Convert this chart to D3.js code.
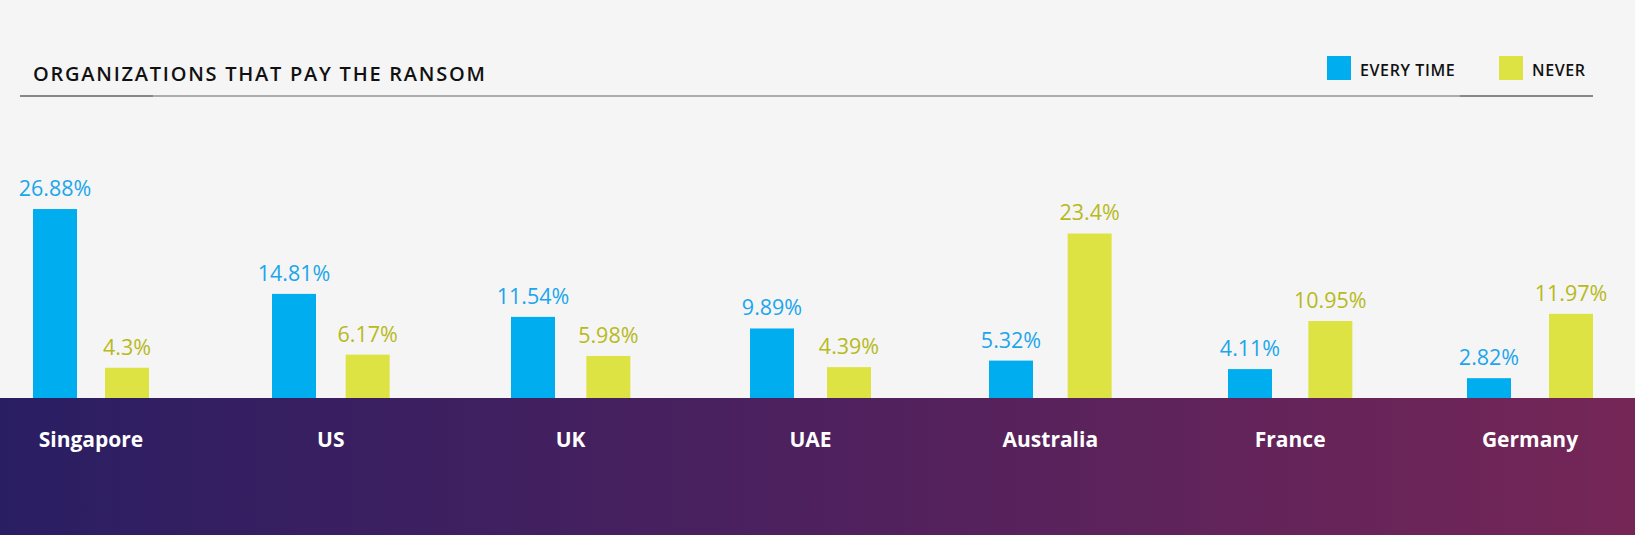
<!DOCTYPE html>
<html>
<head>
<meta charset="utf-8">
<style>
  body { margin: 0; background-color: #f5f5f5; }
  svg { display: block; font-family: 'Open Sans', sans-serif; }
  .title { font-size: 20px; font-weight: 600; letter-spacing: 1.75px; fill: #111; }
  .legend text { font-size: 16px; font-weight: 600; letter-spacing: 0.6px; fill: #111; }
  .value { font-size: 21.5px; font-weight: 500; text-anchor: middle; }
  .country { font-size: 21px; font-weight: 700; fill: #fff; text-anchor: middle; }
</style>
</head>
<body>
<div id="my_dataviz"></div>
<script src="https://d3js.org/d3.v7.min.js"></script>
<script>

// data
var countries = ["Singapore", "US", "UK", "UAE", "Australia", "France", "Germany"];
var everyTime = [26.88, 14.81, 11.54, 9.89, 5.32, 4.11, 2.82];
var never = [4.3, 6.17, 5.98, 4.39, 23.4, 10.95, 11.97];
var seriesNames = ["EVERY TIME", "NEVER"];

var width = 1635, height = 535;
var baseY = 398, barW = 44;
var blue = "#00adef", blueText = "#1ba6ec";
var yellow = "#dde343", yellowText = "#b7ba1c";

var svg = d3.select("#my_dataviz")
  .append("svg")
    .attr("width", width)
    .attr("height", height);

// background band with the gradient
var defs = svg.append("defs");
var grad = defs.append("linearGradient").attr("id", "band").attr("x1", "0%").attr("x2", "100%");
grad.append("stop").attr("offset", "0%").attr("stop-color", "#2a1e63");
grad.append("stop").attr("offset", "50%").attr("stop-color", "#4e215e");
grad.append("stop").attr("offset", "100%").attr("stop-color", "#752657");

svg.append("rect")
  .attr("x", 0).attr("y", 0).attr("width", width).attr("height", height)
  .attr("fill", "#f5f5f5");

// header
svg.append("text")
  .attr("class", "title")
  .attr("x", 33).attr("y", 81)
  .text("ORGANIZATIONS THAT PAY THE RANSOM");

svg.append("line").attr("x1", 20).attr("x2", 1593).attr("y1", 96).attr("y2", 96)
  .attr("stroke", "#acacac").attr("stroke-width", 2);
svg.append("line").attr("x1", 20).attr("x2", 153).attr("y1", 96).attr("y2", 96)
  .attr("stroke", "#888").attr("stroke-width", 2);
svg.append("line").attr("x1", 1460).attr("x2", 1593).attr("y1", 96).attr("y2", 96)
  .attr("stroke", "#888").attr("stroke-width", 2);

// legend
var legend = svg.append("g").attr("class", "legend");
var legendX = d3.scaleOrdinal().domain(seriesNames).range([1327, 1499]);
var legendColor = d3.scaleOrdinal().domain(seriesNames).range([blue, yellow]);
var item = legend.selectAll("g").data(seriesNames).enter().append("g")
  .attr("transform", function(d) { return "translate(" + legendX(d) + ",56)"; });
item.append("rect").attr("width", 24).attr("height", 24).attr("fill", function(d) { return legendColor(d); });
item.append("text").attr("x", 33).attr("y", 20).text(function(d) { return d; });

// scales
var xBlue = d3.scalePoint().domain(countries).range([33, 1467]);
var xYellow = d3.scalePoint().domain(countries).range([105, 1549]);
var y = d3.scaleLinear().domain([0, 30]).range([baseY, baseY - 30 * 7.03]);

var data = countries.map(function(c, i) { return { country: c, a: everyTime[i], b: never[i] }; });

// bars
svg.selectAll(".barA").data(data).enter().append("rect")
  .attr("x", function(d) { return xBlue(d.country); })
  .attr("y", function(d) { return y(d.a); })
  .attr("width", barW)
  .attr("height", function(d) { return y(0) - y(d.a); })
  .attr("fill", blue);

svg.selectAll(".barB").data(data).enter().append("rect")
  .attr("x", function(d) { return xYellow(d.country); })
  .attr("y", function(d) { return y(d.b); })
  .attr("width", barW)
  .attr("height", function(d) { return y(0) - y(d.b); })
  .attr("fill", yellow);

// value labels
svg.selectAll(".valA").data(data).enter().append("text")
  .attr("class", "value")
  .attr("x", function(d) { return xBlue(d.country) + barW / 2; })
  .attr("y", function(d) { return y(d.a) - 13; })
  .attr("fill", blueText)
  .text(function(d) { return d.a + "%"; });

svg.selectAll(".valB").data(data).enter().append("text")
  .attr("class", "value")
  .attr("x", function(d) { return xYellow(d.country) + barW / 2; })
  .attr("y", function(d) { return y(d.b) - 13; })
  .attr("fill", yellowText)
  .text(function(d) { return d.b + "%"; });

// bottom band, drawn over the bar bottoms
svg.append("rect")
  .attr("x", 0).attr("y", baseY).attr("width", width).attr("height", height - baseY)
  .attr("fill", "url(#band)");

svg.selectAll(".country").data(data).enter().append("text")
  .attr("class", "country")
  .attr("x", function(d) { return (xBlue(d.country) + xYellow(d.country) + barW) / 2; })
  .attr("y", 447)
  .text(function(d) { return d.country; });

</script>
</body>
</html>
